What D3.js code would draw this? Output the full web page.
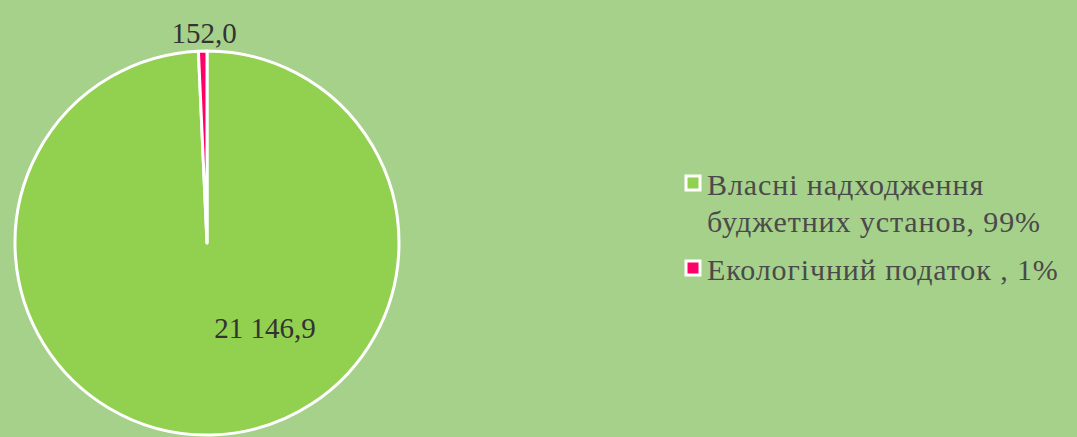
<!DOCTYPE html>
<html lang="uk">
  <head>
    <meta charset="utf-8" />
    <title>Структура надходжень</title>
    <script src="https://d3js.org/d3.v7.js"></script>
    <style>
      body { margin: 0; background: #a6d18b; }
      text { font-family: "Liberation Serif", "Times New Roman", serif; }
    </style>
  </head>
  <body>
    <div id="graph"></div>
    <script>

    // data
    var categories = ["Власні надходження буджетних установ", "Екологічний податок "];
    var values = [21146.9, 152.0];
    var valueLabels = ["21 146,9", "152,0"];
    var percents = ["99%", "1%"];
    var colors = ["#92d050", "#ff0066"];

    var w = 1077, h = 437;
    var cx = 207, cy = 243, r = 192;

    var svg = d3.select("#graph")
      .append("svg")
        .attr("width", w)
        .attr("height", h);

    svg.append("rect")
      .attr("width", w)
      .attr("height", h)
      .attr("fill", "#a6d18b");

    var pie = d3.pie().sort(null).value(d => d.value);
    var arc = d3.arc().innerRadius(0).outerRadius(r);

    var data = categories.map((c, i) => ({name: c, value: values[i], label: valueLabels[i], color: colors[i]}));
    var arcs = pie(data);

    var g = svg.append("g")
      .attr("transform", `translate(${cx},${cy})`);

    g.selectAll("path")
      .data(arcs)
      .join("path")
        .attr("d", arc)
        .attr("fill", d => d.data.color)
        .attr("stroke", "#ffffff")
        .attr("stroke-width", 3)
        .attr("stroke-linejoin", "round");

    // data labels
    g.append("text")
      .attr("x", 58)
      .attr("y", 95)
      .attr("text-anchor", "middle")
      .attr("font-size", 29)
      .attr("fill", "#333333")
      .text(arcs[0].data.label);

    var mid = (arcs[1].startAngle + arcs[1].endAngle) / 2;
    g.append("text")
      .attr("x", Math.sin(mid) * (r + 30) + 2)
      .attr("y", -r - 8)
      .attr("text-anchor", "middle")
      .attr("font-size", 29)
      .attr("fill", "#333333")
      .text(arcs[1].data.label);

    // legend
    var legend = svg.append("g").attr("transform", "translate(685,0)");
    var lines = [
      ["Власні надходження", "буджетних установ, " + percents[0]],
      [categories[1] + ", " + percents[1]]
    ];
    var rowY = [195, 280];

    lines.forEach((ln, i) => {
      legend.append("rect")
        .attr("x", 1)
        .attr("y", rowY[i] - 19)
        .attr("width", 14)
        .attr("height", 14)
        .attr("fill", colors[i])
        .attr("stroke", "#ffffff")
        .attr("stroke-width", 3);
      ln.forEach((t, j) => {
        legend.append("text")
          .attr("x", 22)
          .attr("y", rowY[i] + j * 37)
          .attr("font-size", 30)
          .attr("letter-spacing", 0.9)
          .attr("fill", "#4a4a4a")
          .text(t);
      });
    });

    </script>
  </body>
</html>
